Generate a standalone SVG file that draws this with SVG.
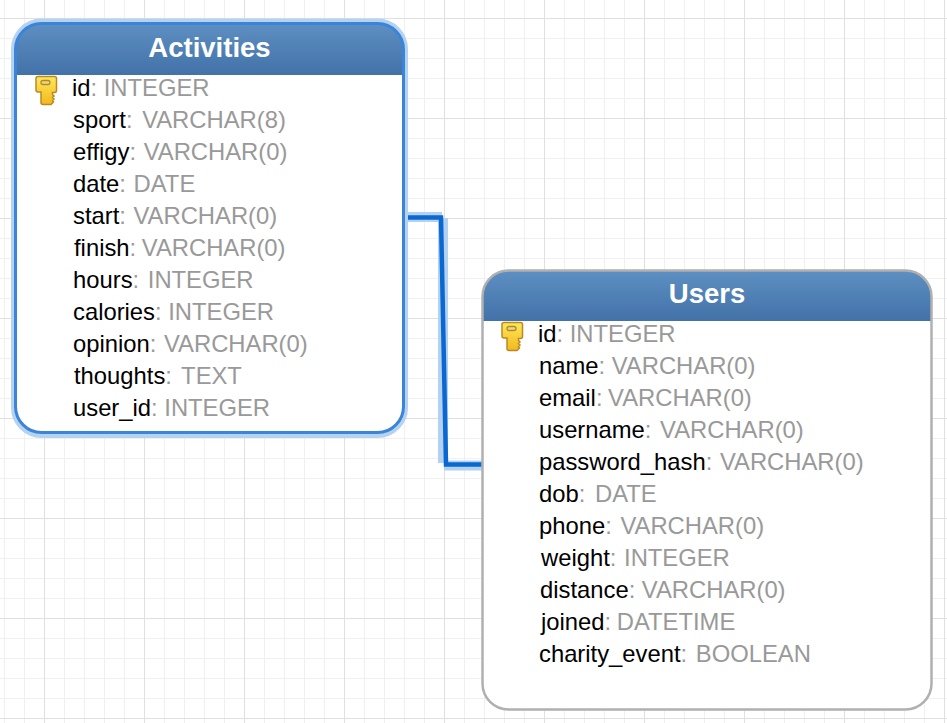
<svg xmlns="http://www.w3.org/2000/svg" width="947" height="723" viewBox="0 0 947 723">
<defs>
<pattern id="grid" x="44" y="18" width="100" height="100" patternUnits="userSpaceOnUse">
<path d="M20.500 0V100M40.500 0V100M60.500 0V100M80.500 0V100M0 20.500H100M0 40.500H100M0 60.500H100M0 80.500H100" stroke="#f0f0f0" stroke-width="1" fill="none"/>
<path d="M0.500 0V100M0 0.500H100" stroke="#e0e0e0" stroke-width="1" fill="none"/>
</pattern>
<linearGradient id="head" x1="0" y1="0" x2="0" y2="1"><stop offset="0" stop-color="#5e8fc2"/><stop offset="1" stop-color="#4272a8"/></linearGradient>
<linearGradient id="gold" x1="0" y1="0" x2="0" y2="1"><stop offset="0" stop-color="#ffe85a"/><stop offset="1" stop-color="#f2b81e"/></linearGradient>
<g id="key">
<path d="M-8.500 -11.500h17a2 2 0 0 1 2 2v12a2 2 0 0 1 -2 2h-2v2l1.500 1.500-1.500 1.500 1.500 1.500-1.500 1.500 1 1.500-2.500 2.500h-8a2 2 0 0 1 -2 -2v-10.500h-3a2 2 0 0 1 -2 -2v-11.500a2 2 0 0 1 2 -2z" fill="url(#gold)" stroke="#b98a22" stroke-width="1.500"/>
<rect x="-5" y="-7.500" width="9" height="4" rx="2" fill="#f5d76a" stroke="#a98a3a" stroke-width="1.300"/>
</g>
</defs>
<style>
text{font-family:"Liberation Sans",Arial,sans-serif;font-size:23.800px;fill:#999}
.n{fill:#000}
.t{font-size:27.500px;font-weight:bold;fill:#fff;text-anchor:middle}
.panel{fill:#fff}
.halo{fill:none;stroke:#b5d2f1;stroke-width:7}
.sel{fill:none;stroke:#3a85d8;stroke-width:3}
.norm{fill:none;stroke:#b0b0b0;stroke-width:2.500}
.cglow{fill:none;stroke:#b3d1f1;stroke-width:10}
.cline{fill:none;stroke:#0a68d0;stroke-width:4.500}
</style>
<rect width="947" height="723" fill="#fff"/>
<rect width="947" height="723" fill="url(#grid)"/>
<g id="connectors">
<path class="cglow" d="M402 217H442M443 218V463M444 465.500H482"/>
<path class="cline" d="M403 217.500H441L446 464.500H482"/>
</g>
<g id="activities">
<rect class="halo" x="14.500" y="22" width="390" height="412.500" rx="27"/>
<rect class="panel" x="15.500" y="23.500" width="388" height="409" rx="26"/>
<path d="M15.500 75V49.500a26 26 0 0 1 26 -26H377.500a26 26 0 0 1 26 26V75z" fill="url(#head)"/>
<rect class="sel" x="15.500" y="23.500" width="388" height="409" rx="26"/>
<text class="t" x="209.500" y="56.500">Activities</text>
<use href="#key" x="46" y="88"/>
<text x="72" y="96"><tspan class="n">id</tspan>: INTEGER</text>
<text x="73" y="128"><tspan class="n">sport</tspan>: <tspan dx="3">VARCHAR(8)</tspan></text>
<text x="73" y="160"><tspan class="n">effigy</tspan>: <tspan dx="1">VARCHAR(0)</tspan></text>
<text x="73" y="192"><tspan class="n">date</tspan>: <tspan dx="1">DATE</tspan></text>
<text x="73" y="224"><tspan class="n">start</tspan>: <tspan dx="1">VARCHAR(0)</tspan></text>
<text x="74" y="256"><tspan class="n">finish</tspan>: <tspan dx="-1">VARCHAR(0)</tspan></text>
<text x="73" y="288"><tspan class="n">hours</tspan>: <tspan dx="2">INTEGER</tspan></text>
<text x="73" y="320"><tspan class="n">calories</tspan>: INTEGER</text>
<text x="73" y="352"><tspan class="n">opinion</tspan>: <tspan dx="1">VARCHAR(0)</tspan></text>
<text x="74" y="384"><tspan class="n">thoughts</tspan>: <tspan dx="3">TEXT</tspan></text>
<text x="73" y="416"><tspan class="n">user_id</tspan>: INTEGER</text>
</g>
<g id="users">
<rect class="panel" x="482.500" y="270.500" width="449" height="439" rx="26"/>
<path d="M482.500 321V296.500a26 26 0 0 1 26 -26H905.500a26 26 0 0 1 26 26V321z" fill="url(#head)"/>
<rect class="norm" x="482.500" y="270.500" width="449" height="439" rx="26"/>
<text class="t" x="707" y="302.500">Users</text>
<use href="#key" x="512" y="334"/>
<text x="538" y="342"><tspan class="n">id</tspan>: INTEGER</text>
<text x="539" y="374"><tspan class="n">name</tspan>: VARCHAR(0)</text>
<text x="539" y="406"><tspan class="n">email</tspan>: <tspan dx="-1">VARCHAR(0)</tspan></text>
<text x="539" y="438"><tspan class="n">username</tspan>: <tspan dx="2">VARCHAR(0)</tspan></text>
<text x="539" y="470"><tspan class="n">password_hash</tspan>: <tspan dx="1">VARCHAR(0)</tspan></text>
<text x="539" y="502"><tspan class="n">dob</tspan>: <tspan dx="3">DATE</tspan></text>
<text x="539" y="534"><tspan class="n">phone</tspan>: <tspan dx="2">VARCHAR(0)</tspan></text>
<text x="541" y="566"><tspan class="n">weight</tspan>: <tspan dx="1">INTEGER</tspan></text>
<text x="540" y="598"><tspan class="n">distance</tspan>: VARCHAR(0)</text>
<text x="541" y="630"><tspan class="n">joined</tspan>: <tspan dx="-1">DATETIME</tspan></text>
<text x="539" y="662"><tspan class="n">charity_event</tspan>: <tspan dx="2">BOOLEAN</tspan></text>
</g>
</svg>
